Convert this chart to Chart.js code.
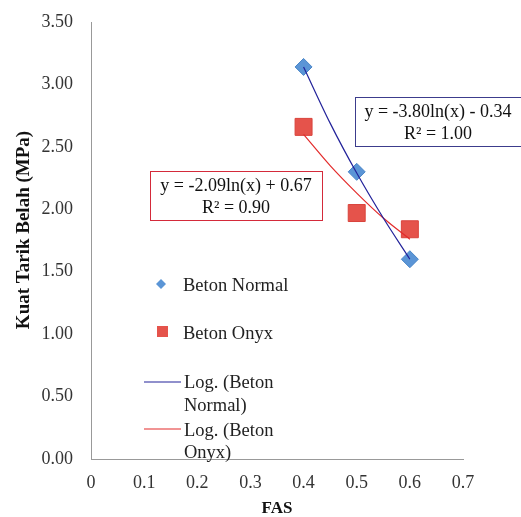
<!DOCTYPE html>
<html>
<head>
<meta charset="utf-8">
<script src="https://cdn.jsdelivr.net/npm/chart.js@4/dist/chart.umd.min.js"></script>
<style>
  html, body { margin: 0; padding: 0; background: #fff; }
  #wrap { width: 521px; height: 517px; }
</style>
</head>
<body>
<div id="wrap"><canvas id="grafik" width="521" height="517"></canvas></div>
<script>
// DATA
const fas = [0.4, 0.5, 0.6];
const betonNormal = [3.14, 2.30, 1.60];
const betonOnyx = [2.66, 1.97, 1.84];

// trendline points
const trendFas = [0.4, 0.45, 0.5, 0.55, 0.6];
const trendNormal = [3.14, 2.69, 2.29, 1.93, 1.60];
const trendOnyx = [2.60, 2.35, 2.13, 1.93, 1.76];

const xTicks = [0, 0.1, 0.2, 0.3, 0.4, 0.5, 0.6, 0.7];
const yTicks = [0, 0.5, 1, 1.5, 2, 2.5, 3, 3.5];

const eqNormal = ["y = -3.80ln(x) - 0.34", "R² = 1.00"];
const eqOnyx = ["y = -2.09ln(x) + 0.67", "R² = 0.90"];
const judulY = "Kuat Tarik Belah (MPa)";

const SERIF = "'Liberation Serif', 'DejaVu Serif', serif";
const BIRU = "#5b95d6";
const MERAH = "#e5534b";
const GARIS_BIRU = "#22229a";
const GARIS_MERAH = "#e32b2b";

function toPts(xs, ys) {
  return xs.map((x, i) => ({ x: x, y: ys[i] }));
}

// ------------------------------
// LEGENDA + KOTAK PERSAMAAN + JUDUL Y
// ------------------------------
const overlay = {
  id: "overlay",
  afterDraw(chart) {
    const ctx = chart.ctx;
    ctx.save();

    // judul sumbu Y
    ctx.save();
    ctx.translate(24, 230);
    ctx.rotate(-Math.PI / 2);
    ctx.font = "bold 19px " + SERIF;
    ctx.fillStyle = "#111";
    ctx.textAlign = "center";
    ctx.textBaseline = "middle";
    ctx.fillText(judulY, 0, 0);
    ctx.restore();

    // kotak persamaan
    function kotak(x, y, w, h, warna, lines) {
      ctx.fillStyle = "#fff";
      ctx.fillRect(x, y, w, h);
      ctx.strokeStyle = warna;
      ctx.lineWidth = 1;
      ctx.strokeRect(x + 0.5, y + 0.5, w, h);
      ctx.fillStyle = "#111";
      ctx.font = "18px " + SERIF;
      ctx.textAlign = "center";
      ctx.textBaseline = "middle";
      ctx.fillText(lines[0], x + w / 2, y + 15);
      ctx.fillText(lines[1], x + w / 2, y + 37);
    }
    kotak(355, 97, 166, 49, "#3c3c8c", eqNormal);
    kotak(150, 171, 172, 49, "#d42a3a", eqOnyx);

    // legenda
    ctx.font = "18.5px " + SERIF;
    ctx.textAlign = "left";
    ctx.textBaseline = "middle";

    // diamond
    ctx.fillStyle = BIRU;
    ctx.beginPath();
    ctx.moveTo(161, 279);
    ctx.lineTo(166, 284);
    ctx.lineTo(161, 289);
    ctx.lineTo(156, 284);
    ctx.closePath();
    ctx.fill();
    // square
    ctx.fillStyle = MERAH;
    ctx.fillRect(157, 326, 11, 11);

    ctx.fillStyle = "#222";
    ctx.fillText("Beton Normal", 183, 286);
    ctx.fillText("Beton Onyx", 183, 334);

    ctx.lineWidth = 1.2;
    ctx.strokeStyle = GARIS_BIRU;
    ctx.beginPath();
    ctx.moveTo(144, 382);
    ctx.lineTo(181, 382);
    ctx.stroke();
    ctx.strokeStyle = GARIS_MERAH;
    ctx.beginPath();
    ctx.moveTo(144, 429);
    ctx.lineTo(181, 429);
    ctx.stroke();

    ctx.fillText("Log. (Beton", 184, 383);
    ctx.fillText("Normal)", 184, 406);
    ctx.fillText("Log. (Beton", 184, 431);
    ctx.fillText("Onyx)", 184, 453);

    ctx.restore();
  },
};

const ctx = document.getElementById("grafik").getContext("2d");
new Chart(ctx, {
  type: "scatter",
  data: {
    datasets: [
      {
        label: "Log. (Beton Normal)",
        data: toPts(trendFas, trendNormal),
        showLine: true,
        borderColor: GARIS_BIRU,
        borderWidth: 1.2,
        pointRadius: 0,
        tension: 0.4,
        cubicInterpolationMode: "monotone",
        order: 1,
      },
      {
        label: "Log. (Beton Onyx)",
        data: toPts(trendFas, trendOnyx),
        showLine: true,
        borderColor: GARIS_MERAH,
        borderWidth: 1.2,
        pointRadius: 0,
        tension: 0.4,
        cubicInterpolationMode: "monotone",
        order: 2,
      },
      {
        label: "Beton Normal",
        data: toPts(fas, betonNormal),
        pointStyle: "rectRot",
        pointRadius: 8.5,
        backgroundColor: BIRU,
        borderColor: "#4a86c8",
        borderWidth: 1,
        order: 3,
      },
      {
        label: "Beton Onyx",
        data: toPts(fas, betonOnyx),
        pointStyle: "rect",
        pointRadius: 12,
        backgroundColor: MERAH,
        borderColor: "#d9443c",
        borderWidth: 1,
        order: 4,
      },
    ],
  },
  options: {
    responsive: false,
    animation: false,
    layout: { padding: { top: 22, right: 58, left: 0, bottom: 0 } },
    plugins: { legend: { display: false }, tooltip: { enabled: false } },
    scales: {
      x: {
        type: "linear",
        min: 0,
        max: 0.7,
        afterBuildTicks: (s) => { s.ticks = xTicks.map((v) => ({ value: v })); },
        afterFit: (s) => { s.height = 58; },
        ticks: {
          padding: 13,
          color: "#333",
          font: { family: SERIF, size: 18 },
          callback: (v) => String(v),
        },
        grid: { drawOnChartArea: false, drawTicks: false },
        border: { color: "#999", width: 1 },
        title: {
          display: true,
          text: "FAS",
          color: "#111",
          font: { family: SERIF, size: 17, weight: "bold", lineHeight: 1 },
          padding: { top: 0, bottom: 0 },
        },
      },
      y: {
        type: "linear",
        min: 0,
        max: 3.5,
        afterBuildTicks: (s) => { s.ticks = yTicks.map((v) => ({ value: v })); },
        afterFit: (s) => {
          s.width = 91;
          s.paddingTop = 10;
          s.paddingBottom = 10;
        },
        ticks: {
          padding: 18,
          color: "#333",
          font: { family: SERIF, size: 18 },
          callback: (v) => v.toFixed(2),
        },
        grid: { drawOnChartArea: false, drawTicks: false },
        border: { color: "#999", width: 1 },
      },
    },
  },
  plugins: [overlay],
});
</script>
</body>
</html>
